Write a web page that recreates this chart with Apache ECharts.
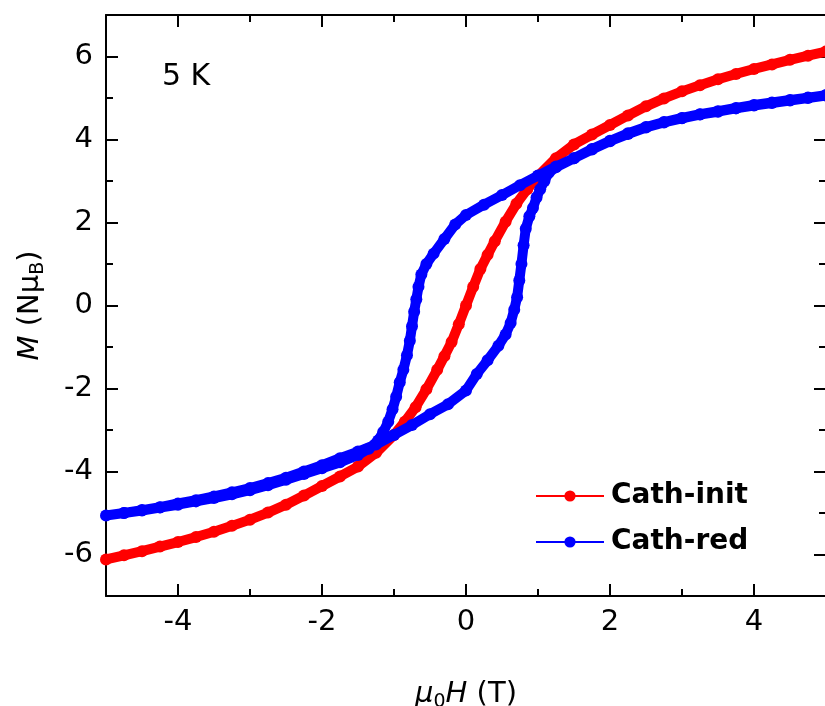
<!DOCTYPE html>
<html>
<head>
    <meta charset="utf-8">
    <title>M vs H at 5 K</title>
    <script src="https://cdn.jsdelivr.net/npm/echarts@6/dist/echarts.min.js"></script>
    <style>
        html, body { margin: 0; padding: 0; background: #fff; }
        #main { width: 825px; height: 706px; }
    </style>
</head>
<body>
<div id="main"></div>
<script>
// Cath-init: one sweep, field (T) and moment (N muB)
const fieldInit = [-5, -4.75, -4.5, -4.25, -4, -3.75, -3.5, -3.25, -3, -2.75, -2.5, -2.25, -2, -1.75, -1.5, -1.25,
    -1, -0.85, -0.7, -0.55, -0.4, -0.3, -0.2, -0.1, 0, 0.1, 0.2, 0.3, 0.4, 0.55, 0.7, 0.85,
    1, 1.25, 1.5, 1.75, 2, 2.25, 2.5, 2.75, 3, 3.25, 3.5, 3.75, 4, 4.25, 4.5, 4.75, 5];
const momentInit = [-6.12, -6.02, -5.92, -5.81, -5.70, -5.58, -5.45, -5.31, -5.16, -4.99, -4.80, -4.58, -4.35, -4.12, -3.88, -3.55,
    -3.12, -2.80, -2.45, -2.02, -1.55, -1.22, -0.88, -0.45, 0, 0.45, 0.88, 1.22, 1.55, 2.02, 2.45, 2.80,
    3.12, 3.55, 3.88, 4.12, 4.35, 4.58, 4.80, 4.99, 5.16, 5.31, 5.45, 5.58, 5.70, 5.81, 5.92, 6.02, 6.12];

// Cath-red: loop, down sweep (+5 -> -5)
const fieldRedDown = [5, 4.75, 4.5, 4.25, 4, 3.75, 3.5, 3.25, 3, 2.75, 2.5, 2.25, 2, 1.75, 1.5, 1.25, 1, 0.75, 0.5, 0.25, 0,
    -0.15, -0.3, -0.45, -0.55, -0.62, -0.66, -0.69, -0.72, -0.75, -0.78, -0.82, -0.87, -0.92, -0.97, -1.02, -1.08, -1.15, -1.22,
    -1.35, -1.5, -1.75, -2, -2.25, -2.5, -2.75, -3, -3.25, -3.5, -3.75, -4, -4.25, -4.5, -4.75, -5];
const momentRedDown = [5.07, 5.01, 4.95, 4.89, 4.83, 4.76, 4.68, 4.61, 4.52, 4.42, 4.30, 4.15, 3.97, 3.77, 3.55, 3.35, 3.13, 2.90, 2.66, 2.43, 2.18,
    1.95, 1.60, 1.25, 1.00, 0.75, 0.45, 0.15, -0.15, -0.50, -0.85, -1.20, -1.55, -1.85, -2.20, -2.50, -2.80, -3.05, -3.25,
    -3.45, -3.60, -3.78, -3.92, -4.06, -4.20, -4.33, -4.45, -4.55, -4.64, -4.72, -4.80, -4.87, -4.94, -5.00, -5.06];

// Cath-red: up sweep (-5 -> +5)
const fieldRedUp = [-4.75, -4.5, -4.25, -4, -3.75, -3.5, -3.25, -3, -2.75, -2.5, -2.25, -2, -1.75, -1.5, -1.25, -1, -0.75, -0.5, -0.25, 0,
    0.15, 0.3, 0.45, 0.55, 0.62, 0.67, 0.71, 0.74, 0.77, 0.8, 0.83, 0.88, 0.93, 0.98, 1.03, 1.09, 1.15, 1.25,
    1.5, 1.75, 2, 2.25, 2.5, 2.75, 3, 3.25, 3.5, 3.75, 4, 4.25, 4.5, 4.75, 5];
const momentRedUp = [-5.00, -4.93, -4.86, -4.77, -4.69, -4.60, -4.50, -4.40, -4.28, -4.15, -4.00, -3.85, -3.68, -3.52, -3.35, -3.12, -2.88, -2.62, -2.38, -2.05,
    -1.65, -1.32, -0.97, -0.70, -0.42, -0.10, 0.20, 0.60, 1.00, 1.45, 1.85, 2.15, 2.35, 2.60, 2.80, 3.00, 3.20, 3.33,
    3.55, 3.76, 3.96, 4.13, 4.29, 4.41, 4.51, 4.60, 4.67, 4.75, 4.82, 4.88, 4.94, 5.00, 5.06];

const seriesNames = ['Cath-init', 'Cath-red'];
const seriesColors = ['#ff0000', '#0000ff'];

const FONT = 'DejaVu Sans';
const pairs = (xs, ys) => xs.map((x, i) => [x, ys[i]]);
const initData = pairs(fieldInit, momentInit);
const redData = pairs(fieldRedDown, momentRedDown).concat(pairs(fieldRedUp, momentRedUp));

const chart = echarts.init(document.getElementById('main'));

const labelStyle = { color: '#000', fontFamily: FONT, fontSize: 29 };
const lineStyle = { color: '#000', width: 2 };

// extra axis that only draws the long (major) ticks
function tickAxis(pos, values, len, min, max) {
    return {
        type: 'value', position: pos, gridIndex: 0,
        min: min, max: max,
        axisLine: { show: false, onZero: false },
        axisTick: { show: true, inside: true, length: len, customValues: values, lineStyle: lineStyle },
        axisLabel: { show: false },
        splitLine: { show: false }
    };
}

const evenFmt = v => (Math.round(v) % 2 === 0 ? String(v) : '');

const nameRich = {
    i: { fontFamily: FONT, fontSize: 29, fontStyle: 'italic', lineHeight: 36, color: '#000' },
    n: { fontFamily: FONT, fontSize: 29, lineHeight: 36, color: '#000' },
    sub: { fontFamily: FONT, fontSize: 19, lineHeight: 12, verticalAlign: 'bottom', color: '#000' }
};

const option = {
    animation: false,
    backgroundColor: '#fff',
    grid: { left: 106, top: 15, right: -1, bottom: 110, outerBoundsMode: 'none', containLabel: false },
    title: {
        text: '5 K', left: 157, top: 57,
        textStyle: { fontFamily: FONT, fontSize: 30, fontWeight: 'normal', color: '#000' }
    },
    legend: {
        data: seriesNames,
        left: 530, top: 477,
        orient: 'vertical',
        itemWidth: 68, itemHeight: 14, itemGap: 18,
        lineStyle: { width: 2 },
        textStyle: { fontFamily: FONT, fontSize: 28, fontWeight: 'bold', color: '#000', padding: [0, 0, 0, 2] }
    },
    xAxis: [
        {
            type: 'value', position: 'bottom', min: -5, max: 5, interval: 1,
            axisLine: { show: true, onZero: false, lineStyle: lineStyle },
            axisTick: { show: true, inside: true, length: 7, lineStyle: lineStyle },
            axisLabel: Object.assign({ margin: 12, formatter: evenFmt }, labelStyle),
            splitLine: { show: false },
            name: '{i|μ}{sub|0}{i|H}{n| (T)}',
            nameLocation: 'middle', nameGap: 80,
            nameTextStyle: { color: '#000', fontFamily: FONT, fontSize: 29, rich: nameRich }
        },
        tickAxis('bottom', [-4, -2, 0, 2, 4], 12, -5, 5),
        {
            type: 'value', position: 'top', min: -5, max: 5, interval: 1,
            axisLine: { show: true, onZero: false, lineStyle: lineStyle },
            axisTick: { show: true, inside: true, length: 7, lineStyle: lineStyle },
            axisLabel: { show: false },
            splitLine: { show: false }
        },
        tickAxis('top', [-4, -2, 0, 2, 4], 12, -5, 5)
    ],
    yAxis: [
        {
            type: 'value', position: 'left', min: -7, max: 7, interval: 1,
            axisLine: { show: true, onZero: false, lineStyle: lineStyle },
            axisTick: { show: true, inside: true, length: 7, lineStyle: lineStyle },
            axisLabel: Object.assign({ margin: 13, formatter: evenFmt }, labelStyle),
            splitLine: { show: false },
            name: '{i|M}{n| (Nμ}{sub|B}{n|)}',
            nameLocation: 'middle', nameGap: 58,
            nameTextStyle: { color: '#000', fontFamily: FONT, fontSize: 29, rich: nameRich }
        },
        tickAxis('left', [-6, -4, -2, 0, 2, 4, 6], 12, -7, 7),
        {
            type: 'value', position: 'right', min: -7, max: 7, interval: 1,
            axisLine: { show: true, onZero: false, lineStyle: lineStyle },
            axisTick: { show: true, inside: true, length: 7, lineStyle: lineStyle },
            axisLabel: { show: false },
            splitLine: { show: false }
        },
        tickAxis('right', [-6, -4, -2, 0, 2, 4, 6], 12, -7, 7)
    ],
    series: [
        {
            name: seriesNames[0], type: 'line', data: initData,
            xAxisIndex: 0, yAxisIndex: 0,
            color: seriesColors[0],
            symbol: 'circle', symbolSize: 12, showAllSymbol: true,
            lineStyle: { width: 10, color: seriesColors[0] },
            itemStyle: { color: seriesColors[0] },
            z: 2
        },
        {
            name: seriesNames[1], type: 'line', data: redData,
            xAxisIndex: 0, yAxisIndex: 0,
            color: seriesColors[1],
            symbol: 'circle', symbolSize: 12, showAllSymbol: true,
            lineStyle: { width: 10, color: seriesColors[1] },
            itemStyle: { color: seriesColors[1] },
            z: 3
        }
    ]
};

chart.setOption(option);
</script>
</body>
</html>
